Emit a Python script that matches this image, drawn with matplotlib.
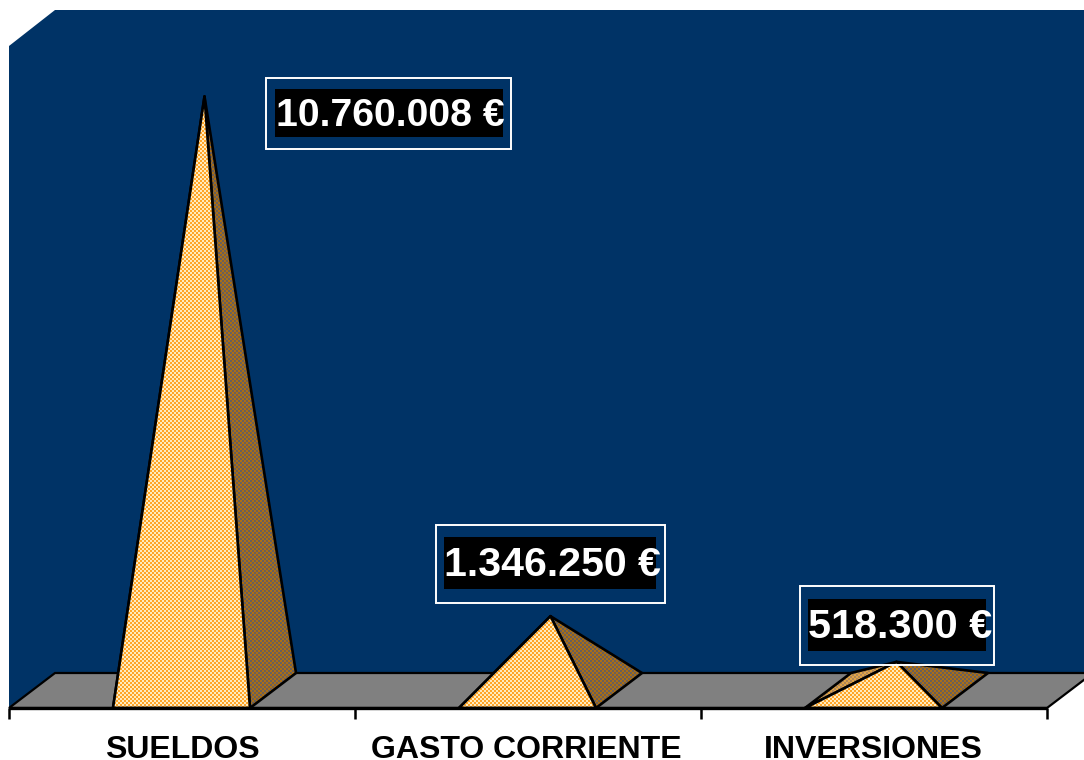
import numpy as np
import matplotlib
matplotlib.use('Agg')
import matplotlib.pyplot as plt
from matplotlib.patches import Polygon, Rectangle
from matplotlib.transforms import Affine2D

# Data
categories = ['SUELDOS', 'GASTO CORRIENTE', 'INVERSIONES']
values = [10760008, 1346250, 518300]
value_labels = ['10.760.008 €', '1.346.250 €', '518.300 €']

# Scales: one category is 346 px wide, the biggest pyramid is 594 px tall
W, H = 1084, 760
cat_px = 346.0
val_px = 594.0 / 10760008
x0_px = 9.0       # left end of the axis
y0_px = 690.5     # value 0, middle of the floor
depth_x = 46 / cat_px
depth_y = 17.5 / val_px
half_w = 68.5 / cat_px
offset = (113 + 68.5 - x0_px) / cat_px  # front base centre inside a category

fig = plt.figure(figsize=(W / 100, H / 100), dpi=100)
ax = fig.add_axes([0, 0, 1, 1])
ax.set_xlim(-x0_px / cat_px, (W - x0_px) / cat_px)
ax.set_ylim((y0_px - H) / val_px, y0_px / val_px)
ax.axis('off')
xlim, ylim = ax.get_xlim(), ax.get_ylim()

# pixel coordinates, for labels and boxes
px = Affine2D().scale(1, -1).translate(0, H)

navy = '#003366'
left, right = 0, 3
front, back = -depth_y, depth_y
top = (y0_px - 10) / val_px

# back wall with the cut corner
wall = Polygon([(left, front), (left, (y0_px - 46) / val_px), (left + depth_x, top),
                (xlim[1], top), (xlim[1], back), (left + depth_x, back)],
               closed=True, fc=navy, ec='none', zorder=1)
ax.add_patch(wall)

# floor
floor = Polygon([(left, front), (right, front), (right + depth_x, back), (left + depth_x, back)],
                closed=True, fc='#808080', ec='black', lw=1.6, zorder=2)
ax.add_patch(floor)

# axis line and ticks
ax.plot([left, right], [front, front], color='black', lw=2.4, zorder=6, solid_capstyle='butt')
tick_len = 11 / val_px
for t in range(4):
    ax.plot([t, t], [front, front - tick_len], color='black', lw=1.8, zorder=6, solid_capstyle='butt')


def dither(c1, c2):
    # checker of 2 px cells, like the pattern fill of the original
    yy, xx = np.indices((H, W))
    mask = ((xx // 2 + yy // 2) % 2 == 0)[..., None]
    return np.where(mask, np.array(c1), np.array(c2)).astype(np.uint8)


front_tex = dither((255, 165, 40), (255, 235, 190))
side_tex = dither((170, 110, 20), (105, 95, 90))
left_tex = dither((225, 165, 70), (175, 135, 90))


def face(points, tex, z):
    poly = Polygon(points, closed=True, fc='none', ec='black', lw=1.9, zorder=z + 0.1, joinstyle='round')
    ax.add_patch(poly)
    im = ax.imshow(tex, extent=xlim + ylim, origin='upper', interpolation='nearest',
                   zorder=z, aspect='auto')
    im.set_clip_path(poly)


for i, v in enumerate(values):
    c = i + offset
    fl, fr = (c - half_w, front), (c + half_w, front)
    bl, br = (c - half_w + depth_x, back), (c + half_w + depth_x, back)
    apex = (c + depth_x / 2, v)
    face([fl, bl, apex], left_tex, 3)
    face([fr, br, apex], side_tex, 3.2)
    face([fl, fr, apex], front_tex, 3.4)
ax.set_xlim(xlim)
ax.set_ylim(ylim)

# category labels
cat_x = [182, 526, 873]
for x, name in zip(cat_x, categories):
    ax.text(x, 746, name, transform=px, ha='center', va='center_baseline', color='black',
            fontsize=23, fontweight='bold', family='Liberation Sans', zorder=8)

# value labels: outer box, black box, font size
outer = [(266, 78, 511, 149), (436, 525, 665, 603), (800, 586, 994, 665)]
inner = [(275, 89, 503, 137), (444, 537, 656, 589), (808, 599, 986, 651)]
sizes = [28.3, 29.6, 29.8]
for lab, o, b, s in zip(value_labels, outer, inner, sizes):
    ax.add_patch(Rectangle((o[0], o[1]), o[2] - o[0], o[3] - o[1], transform=px, fc='none',
                           ec='white', lw=1.4, zorder=9))
    ax.add_patch(Rectangle((b[0], b[1]), b[2] - b[0], b[3] - b[1], transform=px, fc='black',
                           ec='none', zorder=9))
    ax.text(b[0] + 0.5, (b[1] + b[3]) / 2 + 2.5, lab, transform=px, ha='left', va='center',
            color='white', fontsize=s, fontweight='bold', family='Liberation Sans', zorder=10)

fig.savefig('out.png', dpi=100, facecolor='white')
